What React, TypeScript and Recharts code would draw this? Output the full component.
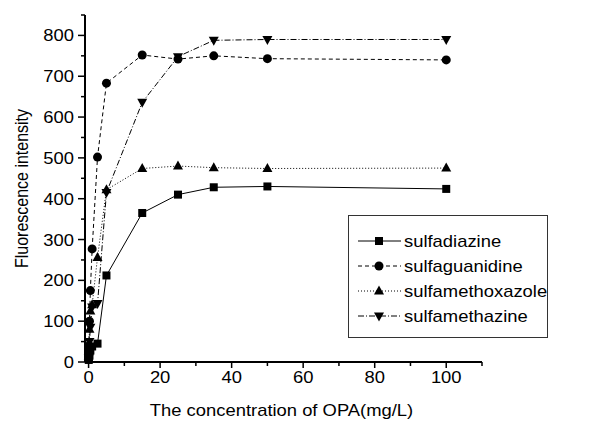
import { LineChart, Line, XAxis, YAxis, Legend, Label } from "recharts";

const xValues = [0.05, 0.1, 0.25, 0.5, 1, 2.5, 5, 15, 25, 35, 50, 100];
const sulfadiazine = [5, 10, 18, 28, 38, 45, 212, 365, 410, 428, 430, 424];
const sulfaguanidine = [20, 40, 100, 175, 277, 502, 683, 752, 742, 750, 743, 740];
const sulfamethoxazole = [15, 35, 80, 125, 140, 256, 422, 474, 480, 476, 474, 475];
const sulfamethazine = [10, 25, 50, 85, 135, 143, 415, 636, 748, 788, 790, 790];

const xTicks = [0, 10, 20, 30, 40, 50, 60, 70, 80, 90, 100, 110];
const yTicks = [0, 50, 100, 150, 200, 250, 300, 350, 400, 450, 500, 550, 600, 650, 700, 750, 800, 850];

const FONT = "'Liberation Sans', Arial, sans-serif";
// the source picture is stretched sideways a bit, so the text is too
const STRETCH = 1.15;

type Shape = "square" | "circle" | "up" | "down";

const series: { key: string; shape: Shape; dash?: string }[] = [
  { key: "sulfadiazine", shape: "square" },
  { key: "sulfaguanidine", shape: "circle", dash: "4 3" },
  { key: "sulfamethoxazole", shape: "up", dash: "1 2" },
  { key: "sulfamethazine", shape: "down", dash: "6 2 1 2" },
];

const data = xValues.map((x, i) => ({
  x,
  sulfadiazine: sulfadiazine[i],
  sulfaguanidine: sulfaguanidine[i],
  sulfamethoxazole: sulfamethoxazole[i],
  sulfamethazine: sulfamethazine[i],
}));

const SText = ({ x, y, anchor, size, rotate, children }: any) => (
  <text
    transform={`translate(${x},${y}) scale(${STRETCH},1)${rotate ? ` rotate(${rotate})` : ""}`}
    textAnchor={anchor || "start"}
    fontSize={size}
    fontFamily={FONT}
    fill="#000"
  >
    {children}
  </text>
);

const Marker = ({ cx, cy, shape }: { cx: number; cy: number; shape: Shape }) => {
  if (cx == null || cy == null) return null;
  if (shape === "square") return <rect x={cx - 4} y={cy - 4} width={8} height={8} fill="#000" />;
  if (shape === "circle") return <circle cx={cx} cy={cy} r={4.5} fill="#000" />;
  if (shape === "up")
    return <polygon points={`${cx},${cy - 5.5} ${cx - 5},${cy + 3.5} ${cx + 5},${cy + 3.5}`} fill="#000" />;
  return <polygon points={`${cx},${cy + 5.5} ${cx - 5},${cy - 3.5} ${cx + 5},${cy - 3.5}`} fill="#000" />;
};

const XTick = (props: any) => {
  const { x, y, payload } = props;
  const major = payload.value % 20 === 0 && payload.value <= 100;
  return (
    <g>
      <line x1={x} y1={y} x2={x} y2={y + (major ? 6 : 4)} stroke="#000" strokeWidth={1.5} />
      {major && (
        <SText x={x} y={y + 21} anchor="middle" size={16}>
          {payload.value}
        </SText>
      )}
    </g>
  );
};

const YTick = (props: any) => {
  const { x, y, payload } = props;
  const major = payload.value % 100 === 0;
  return (
    <g>
      <line x1={x} y1={y} x2={x - (major ? 7 : 4)} y2={y} stroke="#000" strokeWidth={1.5} />
      {major && (
        <SText x={x - 11} y={y + 6} anchor="end" size={16}>
          {payload.value}
        </SText>
      )}
    </g>
  );
};

const LegendBox = () => (
  <div
    style={{
      width: 198,
      height: 121,
      border: "1px solid #333",
      background: "#fff",
    }}
  >
    <svg width={198} height={121} style={{ overflow: "visible" }}>
      {series.map((s, i) => {
        const cy = 25 + i * 25;
        return (
          <g key={s.key}>
            <line x1={9} y1={cy} x2={52} y2={cy} stroke="#000" strokeWidth={1} strokeDasharray={s.dash} />
            <Marker cx={30} cy={cy} shape={s.shape} />
            <SText x={55} y={cy + 6} size={16}>
              {s.key}
            </SText>
          </g>
        );
      })}
    </svg>
  </div>
);

export default function App() {
  return (
    <div style={{ position: "fixed", left: 0, top: 0, width: 594, height: 428, background: "#fff" }}>
      <LineChart width={594} height={428} data={data} margin={{ top: 15, right: 112, left: 0, bottom: 0 }}>
        <XAxis
          dataKey="x"
          type="number"
          domain={[-1, 110]}
          ticks={xTicks}
          tick={<XTick />}
          tickLine={false}
          tickSize={0}
          tickMargin={0}
          height={66}
          stroke="#000"
          strokeWidth={2}
          interval={0}
        >
          <Label
            content={(p: any) => {
              const vb = p.viewBox;
              return (
                <SText x={vb.x + vb.width / 2 - 2} y={416} anchor="middle" size={16}>
                  The concentration of OPA(mg/L)
                </SText>
              );
            }}
          />
        </XAxis>
        <YAxis
          type="number"
          domain={[0, 850]}
          ticks={yTicks}
          tick={<YTick />}
          tickLine={false}
          tickSize={0}
          tickMargin={0}
          width={85}
          stroke="#000"
          strokeWidth={2}
          interval={0}
        >
          <Label
            content={(p: any) => {
              const vb = p.viewBox;
              const cy = vb.y + vb.height / 2;
              return (
                <SText x={28} y={cy} anchor="middle" size={16} rotate={-90}>
                  Fluorescence intensity
                </SText>
              );
            }}
          />
        </YAxis>
        <Legend
          layout="vertical"
          align="center"
          verticalAlign="middle"
          content={() => <LegendBox />}
          wrapperStyle={{ position: "absolute", left: 348, top: 215, width: 200, height: 123 }}
        />
        {series.map((s) => (
          <Line
            key={s.key}
            dataKey={s.key}
            type="linear"
            stroke="#000"
            strokeWidth={1}
            strokeDasharray={s.dash}
            dot={(p: any) => <Marker key={`${s.key}-${p.index}`} cx={p.cx} cy={p.cy} shape={s.shape} />}
            activeDot={false}
            isAnimationActive={false}
          />
        ))}
      </LineChart>
    </div>
  );
}
